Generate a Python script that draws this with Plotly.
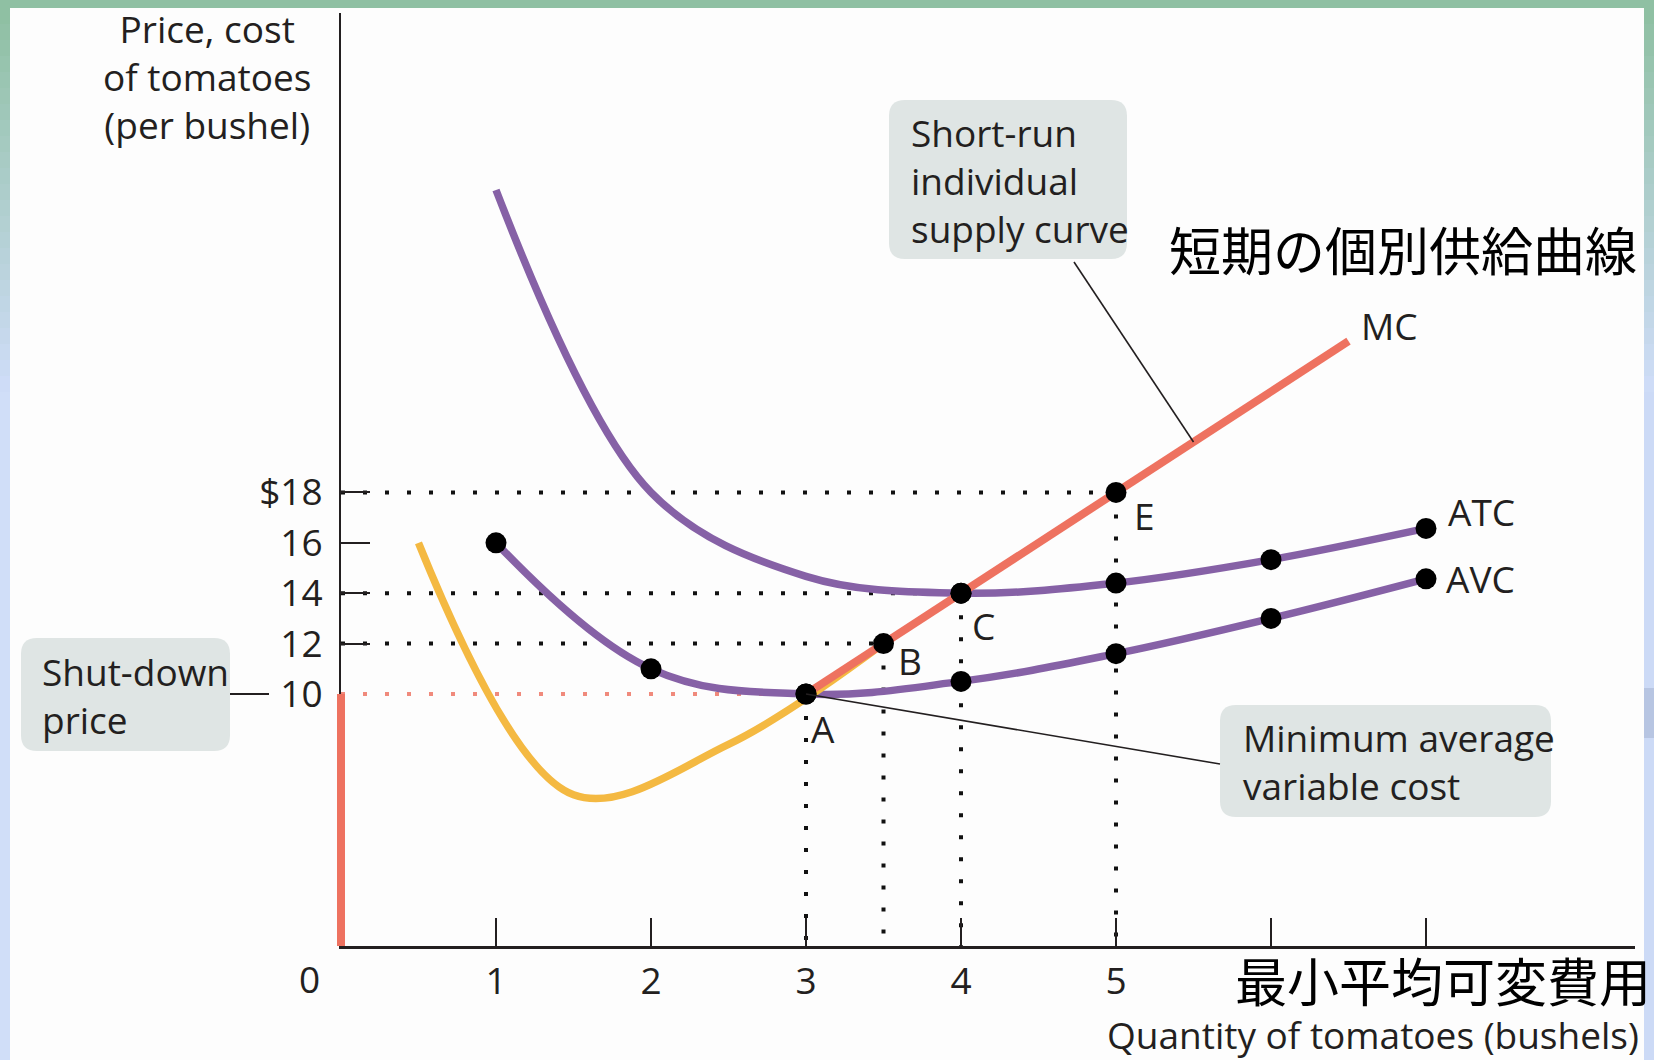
import plotly.graph_objects as go

# ---- Cost schedule of the tomato farm (price in $ per bushel) ----
quantity = [1, 2, 3, 4, 5, 6, 7]
avc = [16.00, 11.00, 10.00, 10.50, 11.60, 13.00, 14.57]
atc = [30.00, 18.00, 14.67, 14.00, 14.40, 15.33, 16.57]

# Marginal cost is plotted at the midpoint between output levels
mc_quantity = [0.5, 1.5, 2.5, 3.5, 4.5, 5.5, 6.5]
mc = [16, 6, 8, 12, 16, 20, 24]

# Labelled points on the short-run supply curve
point_names = ["A", "B", "C", "E"]
point_q = [3, 3.5, 4, 5]
point_p = [10, 12, 14, 18]

# Axis ticks
price_ticks = [10, 12, 14, 16, 18]
price_tick_text = ["10", "12", "14", "16", "$18"]
quantity_ticks = [1, 2, 3, 4, 5, 6, 7]
quantity_tick_text = ["1", "2", "3", "4", "5"]

# ---- geometry ----
W, H = 1654, 1060
ML, MR, MT, MB = 341, 19, 13, 114
PW, PH = W - ML - MR, H - MT - MB
X_UNIT, Y_UNIT = 155.0, 25.2          # pixels per bushel / per dollar
X_MAX, Y_MAX = PW / X_UNIT, PH / Y_UNIT

INK = "#231f20"
PURPLE = "#8661a6"
RED = "#ee7260"
YELLOW = "#f4b942"
BOX = "#dfe5e4"
FONT = "Open Sans"
FS = 37
LW = 7.5
DOTS = "4px,18px"


def fx(p):
    return (p - ML) / PW


def fy(p):
    return (H - MB - p) / PH


def dx(p):
    return (p - ML) / X_UNIT


def dy(p):
    return (H - MB - p) / Y_UNIT


shutdown_q = quantity[avc.index(min(avc))]
shutdown_p = min(avc)

fig = go.Figure()

# dotted guide lines from each labelled point to the axes
for q, p in zip(point_q, point_p):
    hcol = "#f08a7c" if p == shutdown_p else "#111111"
    fig.add_trace(go.Scatter(x=[0, q], y=[p, p], mode="lines",
                             line=dict(color=hcol, width=4, dash=DOTS),
                             hoverinfo="skip", showlegend=False))
    fig.add_trace(go.Scatter(x=[q, q], y=[p, 0], mode="lines",
                             line=dict(color="#111111", width=4, dash=DOTS),
                             hoverinfo="skip", showlegend=False))

# ATC and AVC curves
fig.add_trace(go.Scatter(x=quantity, y=atc, mode="lines",
                         line=dict(color=PURPLE, width=LW, shape="spline", smoothing=1.0),
                         name="ATC", showlegend=False))
fig.add_trace(go.Scatter(x=quantity, y=avc, mode="lines",
                         line=dict(color=PURPLE, width=LW, shape="spline", smoothing=1.1),
                         name="AVC", showlegend=False))

# MC below minimum AVC (yellow); its tail runs under the red supply segment
n_low = sum(1 for q in mc_quantity if q < shutdown_q)
fig.add_trace(go.Scatter(x=mc_quantity[:n_low + 1], y=mc[:n_low + 1], mode="lines",
                         line=dict(color=YELLOW, width=LW, shape="spline", smoothing=1.0),
                         showlegend=False))
fig.add_trace(go.Scatter(x=[shutdown_q] + mc_quantity[n_low:],
                         y=[shutdown_p] + mc[n_low:], mode="lines",
                         line=dict(color=RED, width=LW + 0.5),
                         name="MC", showlegend=False))

# black dots
fig.add_trace(go.Scatter(x=quantity, y=avc, mode="markers",
                         marker=dict(color="black", size=21), showlegend=False))
fig.add_trace(go.Scatter(x=quantity[3:], y=atc[3:], mode="markers",
                         marker=dict(color="black", size=21), showlegend=False))
fig.add_trace(go.Scatter(x=point_q, y=point_p, mode="markers",
                         marker=dict(color="black", size=21), showlegend=False))

# dummy trace for the tick-mark axes
fig.add_trace(go.Scatter(x=[None], y=[None], xaxis="x2", yaxis="y2",
                         showlegend=False, hoverinfo="skip"))

shapes = []


def rect(x0, y0, x1, y1, color):
    shapes.append(dict(type="rect", xref="paper", yref="paper",
                       x0=fx(x0), x1=fx(x1), y0=fy(y0), y1=fy(y1),
                       fillcolor=color, line=dict(width=0), layer="below"))


def lerp(c0, c1, t):
    return "rgb(%d,%d,%d)" % tuple(round(a + (b - a) * t) for a, b in zip(c0, c1))


# frame around the slide
green = (143, 192, 163)
blue = (206, 220, 247)
steps = 24
for i in range(steps):
    y0 = 8 + i * 16
    c = lerp(green, blue, i / (steps - 1))
    rect(0, y0, 10, y0 + 17, c)
    rect(1644, y0, 1654, y0 + 17, c)
rect(0, 8 + steps * 16, 10, H, "rgb(208,222,248)")
rect(1644, 8 + steps * 16, 1654, H, "rgb(204,218,246)")
rect(1644, 688, 1654, 738, "rgb(183,197,226)")
rect(0, 0, W, 8, "rgb(143,192,163)")


def rounded(x0, y0, x1, y1, r=16):
    pts = [("M", [(x0 + r, y0)]), ("L", [(x1 - r, y0)]), ("Q", [(x1, y0), (x1, y0 + r)]),
           ("L", [(x1, y1 - r)]), ("Q", [(x1, y1), (x1 - r, y1)]), ("L", [(x0 + r, y1)]),
           ("Q", [(x0, y1), (x0, y1 - r)]), ("L", [(x0, y0 + r)]), ("Q", [(x0, y0), (x0 + r, y0)])]
    path = " ".join(cmd + " " + " ".join("%.5f,%.5f" % (fx(a), fy(b)) for a, b in ps)
                    for cmd, ps in pts) + " Z"
    shapes.append(dict(type="path", xref="paper", yref="paper", path=path,
                       fillcolor=BOX, line=dict(width=0), layer="below"))


rounded(21, 638, 230, 751)
rounded(889, 100, 1127, 259)
rounded(1220, 705, 1551, 817)

# vertical part of the supply curve (price below shut-down price)
shapes.append(dict(type="line", xref="paper", yref="y", x0=0, x1=0, y0=0, y1=shutdown_p,
                   line=dict(color=RED, width=8)))
# leader lines
shapes.append(dict(type="line", xref="paper", yref="y", x0=fx(230), x1=fx(269),
                   y0=shutdown_p, y1=shutdown_p, line=dict(color=INK, width=2)))
shapes.append(dict(type="line", xref="x", yref="y", x0=dx(1074), y0=dy(262),
                   x1=mc_quantity[5], y1=mc[5], line=dict(color=INK, width=1.6)))
shapes.append(dict(type="line", xref="x", yref="y", x0=shutdown_q, y0=shutdown_p,
                   x1=dx(1220), y1=dy(764), line=dict(color=INK, width=1.6)))

font = dict(family=FONT, size=FS, color=INK)
ann = []


def text(t, x, y, xa="left", ya="middle", align="left", f=None):
    ann.append(dict(text=t, xref="paper", yref="paper", x=fx(x), y=fy(y),
                    xanchor=xa, yanchor=ya, align=align, showarrow=False,
                    font=f or font))


text("Price, cost<br>of tomatoes<br>(per bushel)", 207, 76, xa="center", align="center")
text("Quantity of tomatoes (bushels)", 1641, 1034, xa="right")
text("0", 309, 978, xa="center")
text("Shut-down<br>price", 40, 695)
text("Short-run<br>individual<br>supply curve", 909, 180)
text("Minimum average<br>variable cost", 1241, 761)
jp = dict(family="Noto Sans CJK JP", size=52, color="black")
text("短期の個別供給曲線", 1167, 249, f=jp)
text("最小平均可変費用", 1233, 980, f=jp)

# point labels
offsets = {"A": (17, -34), "B": (26, -17), "C": (22, -32), "E": (28, -23)}
for n, q, p in zip(point_names, point_q, point_p):
    ox, oy = offsets[n]
    ann.append(dict(text=n, x=q, y=p, xref="x", yref="y", xanchor="center",
                    yanchor="middle", xshift=ox, yshift=oy, showarrow=False, font=font))
ann.append(dict(text="MC", x=mc_quantity[-1], y=mc[-1], xref="x", yref="y",
                xanchor="left", yanchor="middle", xshift=10, yshift=16,
                showarrow=False, font=font))
ann.append(dict(text="ATC", x=quantity[-1], y=atc[-1], xref="x", yref="y",
                xanchor="left", yanchor="middle", xshift=20, yshift=17,
                showarrow=False, font=font))
ann.append(dict(text="AVC", x=quantity[-1], y=avc[-1], xref="x", yref="y",
                xanchor="left", yanchor="middle", xshift=18, yshift=0,
                showarrow=False, font=font))

fig.update_layout(
    width=W, height=H,
    margin=dict(l=ML, r=MR, t=MT, b=MB, pad=0),
    paper_bgcolor="#fdfdfd", plot_bgcolor="#fdfdfd",
    showlegend=False,
    shapes=shapes, annotations=ann,
    xaxis=dict(range=[0, X_MAX], showline=True, linecolor=INK, linewidth=2.5,
               showgrid=False, zeroline=False, ticks="",
               tickmode="array", tickvals=quantity_ticks[:len(quantity_tick_text)],
               ticktext=quantity_tick_text, tickfont=font, ticklabelstandoff=1),
    yaxis=dict(range=[0, Y_MAX], showline=True, linecolor=INK, linewidth=2,
               showgrid=False, zeroline=False, ticks="",
               tickmode="array", tickvals=price_ticks, ticktext=price_tick_text,
               tickfont=font, ticklabelstandoff=9),
    xaxis2=dict(range=[0, X_MAX], overlaying="x", anchor="y2", side="bottom",
                ticks="inside", ticklen=28, tickwidth=2, tickcolor=INK,
                tickmode="array", tickvals=quantity_ticks, showticklabels=False,
                showline=False, showgrid=False, zeroline=False),
    yaxis2=dict(range=[0, Y_MAX], overlaying="y", anchor="x2", side="left",
                ticks="inside", ticklen=29, tickwidth=2, tickcolor=INK,
                tickmode="array", tickvals=price_ticks[1:], showticklabels=False,
                showline=False, showgrid=False, zeroline=False),
)

fig.write_html("out.html")
